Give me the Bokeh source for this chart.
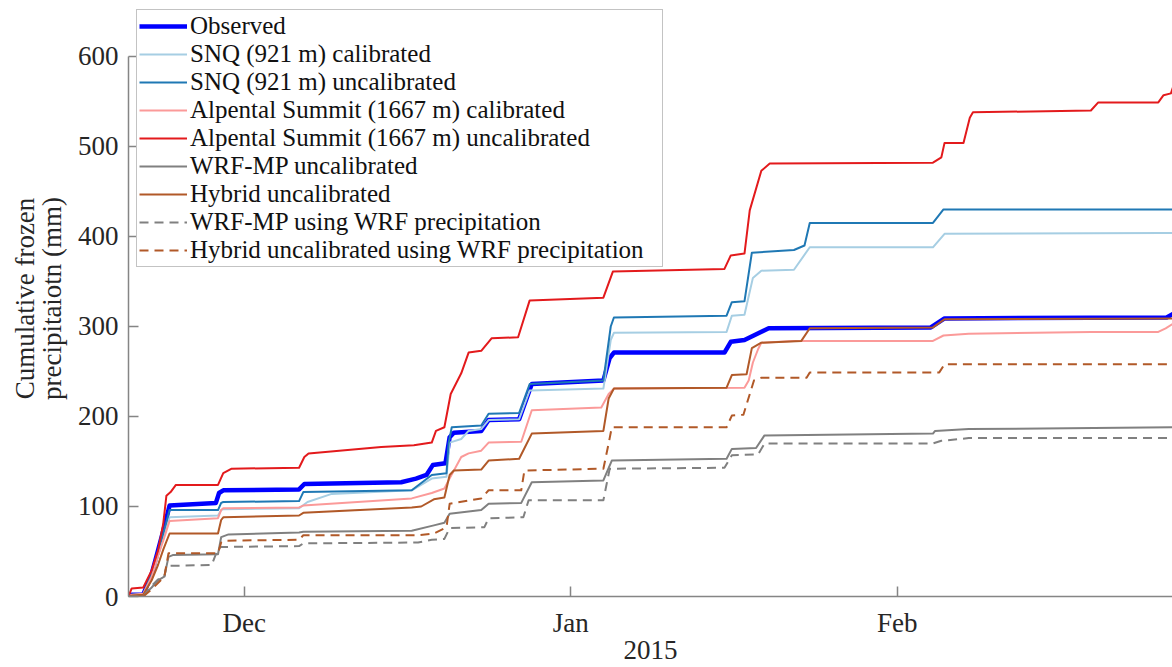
from datetime import datetime, timedelta

from bokeh.plotting import figure
from bokeh.models import (Range1d, FixedTicker, DatetimeTickFormatter, Legend,
                          LegendItem)
from bokeh.embed import file_html
from bokeh.resources import INLINE

START = datetime(2014, 11, 20)

# ---- data: days since 2014-11-20 and cumulative frozen precipitation (mm) ----
obs_day = [0.0, 0.3, 1.4, 2.2, 2.8, 3.3, 3.9, 8.3, 8.6, 9.0, 16.2, 16.7, 25.9, 27.3, 28.3, 28.9,
           30.1, 30.5, 30.9, 33.5, 34.2, 37.1, 38.3, 45.1, 45.7, 46.1, 56.6, 57.2, 58.5, 60.8,
           76.2, 77.5, 98.6, 99.2]
obs_mm = [0, 2, 2, 25, 51, 73, 101, 104, 115, 118, 119, 125, 127, 131, 135, 146,
          148, 177, 182, 184, 196, 197, 236, 240, 265, 271, 271, 283, 285, 298,
          299, 309, 310, 314]

snq_cal_day = [0.0, 0.3, 1.4, 2.2, 2.8, 3.3, 3.9, 8.5, 8.8, 9.0, 16.2, 17.0, 19.3, 26.9, 28.8,
               30.2, 30.5, 31.6, 32.3, 33.5, 34.2, 37.1, 38.1, 45.1, 45.8, 46.1, 56.8, 57.3,
               58.5, 59.3, 60.1, 63.2, 64.7, 76.4, 77.5, 98.1, 99.2]
snq_cal_mm = [0, 1, 2, 22, 45, 65, 88, 90, 96, 97, 98, 105, 114, 118, 131,
              133, 171, 175, 184, 186, 196, 197, 229, 231, 285, 293, 294, 312,
              313, 354, 362, 363, 388, 388, 403, 404, 404]

snq_unc_day = [0.0, 0.3, 1.4, 2.2, 2.8, 3.3, 3.9, 8.5, 8.8, 9.0, 16.2, 16.6, 26.9, 28.8,
               30.2, 30.4, 30.7, 33.5, 34.2, 37.1, 38.1, 45.1, 45.8, 46.1, 56.8, 57.3,
               58.5, 59.2, 63.2, 64.2, 64.7, 76.4, 77.4, 99.2]
snq_unc_mm = [0, 2, 3, 25, 50, 70, 96, 96, 104, 105, 106, 116, 118, 135,
              137, 170, 188, 190, 203, 204, 236, 240, 300, 310, 312, 327,
              328, 382, 385, 390, 415, 415, 430, 430]

alp_cal_day = [0.0, 0.3, 1.4, 2.2, 2.8, 3.3, 3.9, 8.5, 8.8, 9.0, 16.2, 16.6, 26.9, 28.8,
               30.0, 30.4, 31.6, 32.3, 33.5, 34.2, 37.3, 38.3, 44.9, 45.6, 46.1, 58.5,
               58.9, 59.3, 59.8, 60.1, 63.2, 76.4, 77.4, 79.8, 91.4, 97.8, 98.5, 99.2]
alp_cal_mm = [0, 2, 3, 22, 45, 62, 84, 87, 96, 98, 99, 101, 109, 115,
              120, 129, 155, 159, 162, 171, 172, 207, 210, 225, 231, 232,
              240, 260, 275, 282, 284, 284, 290, 292, 294, 294, 298, 303]

alp_unc_day = [0.0, 0.3, 1.4, 2.2, 2.8, 3.3, 3.6, 4.0, 4.5, 8.5, 9.0, 9.8, 16.2, 16.7, 17.1,
               24.0, 27.1, 28.8, 29.2, 30.0, 30.6, 31.6, 32.3, 33.5, 34.5, 37.0, 38.1,
               45.1, 46.0, 56.6, 57.2, 58.5, 59.0, 60.1, 60.9, 76.4, 77.2, 77.5, 79.3,
               79.9, 80.2, 91.4, 92.1, 97.8, 98.3, 99.0, 99.2]
alp_unc_mm = [0, 9, 10, 29, 51, 81, 112, 116, 124, 124, 137, 142, 143, 155, 159,
              166, 168, 171, 184, 188, 225, 248, 271, 273, 287, 288, 329,
              332, 361, 364, 379, 381, 429, 473, 481, 482, 488, 504, 504,
              532, 538, 540, 549, 549, 557, 559, 566]

wrf_day = [0.0, 1.4, 2.2, 2.8, 3.4, 3.8, 4.2, 8.5, 8.8, 9.5, 16.2, 16.6, 26.9, 29.0, 30.0,
           30.5, 33.5, 34.2, 37.3, 38.3, 45.1, 45.9, 56.8, 57.3, 59.6, 60.4, 76.4, 76.6,
           79.8, 99.2]
wrf_mm = [0, 1, 10, 18, 22, 44, 46, 47, 66, 69, 71, 72, 73, 79, 82,
          92, 96, 103, 104, 127, 129, 151, 153, 164, 165, 179, 181, 184,
          186, 188]

hyb_day = [0.0, 0.3, 1.4, 2.2, 2.8, 3.3, 3.9, 8.5, 8.8, 9.0, 16.2, 16.6, 26.9, 27.8, 29.0,
           30.0, 30.5, 30.9, 33.5, 34.2, 37.1, 38.3, 45.1, 45.6, 46.1, 56.8, 57.3, 58.7,
           59.2, 60.1, 63.9, 64.7, 76.4, 77.5, 99.2]
hyb_mm = [0, 1, 2, 18, 35, 52, 70, 70, 85, 88, 90, 93, 99, 100, 108,
          110, 135, 140, 141, 151, 153, 181, 184, 220, 231, 232, 246, 247,
          276, 282, 284, 298, 299, 308, 309]

wrf_wrfp_day = [0.0, 1.4, 2.2, 2.8, 3.4, 3.6, 7.9, 8.5, 8.8, 16.2, 16.6, 27.5, 28.8, 30.0,
                30.5, 33.8, 34.2, 37.5, 38.0, 45.1, 45.7, 56.6, 57.3, 59.8, 60.4, 76.4,
                77.2, 79.8, 99.2]
wrf_wrfp_mm = [0, 0, 12, 19, 21, 34, 35, 53, 55, 56, 59, 60, 63, 64,
               76, 77, 87, 88, 107, 107, 142, 143, 157, 158, 170, 170,
               173, 176, 176]

hyb_wrfp_day = [0.0, 1.4, 2.2, 2.8, 3.4, 3.8, 8.5, 8.8, 9.1, 16.2, 16.6, 27.5, 29.0, 30.2,
                30.5, 33.5, 34.2, 37.3, 37.6, 45.1, 45.6, 45.9, 56.8, 57.3, 58.4, 59.4,
                60.1, 64.4, 64.7, 77.0, 77.5, 99.2]
hyb_wrfp_mm = [0, 0, 8, 15, 22, 48, 48, 60, 62, 63, 68, 68, 70, 77,
               103, 109, 118, 118, 140, 142, 170, 188, 188, 201, 202, 240,
               243, 243, 249, 249, 258, 258]

month_ticks = [datetime(2014, 12, 1), datetime(2015, 1, 1), datetime(2015, 2, 1)]
y_ticks = [0, 100, 200, 300, 400, 500, 600]

series = [
    ("Observed", obs_day, obs_mm, "#0000ff", 4.5, "solid"),
    ("SNQ (921 m) calibrated", snq_cal_day, snq_cal_mm, "#a6cee3", 2, "solid"),
    ("SNQ (921 m) uncalibrated", snq_unc_day, snq_unc_mm, "#1f78b4", 2, "solid"),
    ("Alpental Summit (1667 m) calibrated", alp_cal_day, alp_cal_mm, "#fb9a99", 2, "solid"),
    ("Alpental Summit (1667 m) uncalibrated", alp_unc_day, alp_unc_mm, "#e31a1c", 2, "solid"),
    ("WRF-MP uncalibrated", wrf_day, wrf_mm, "#808080", 2, "solid"),
    ("Hybrid uncalibrated", hyb_day, hyb_mm, "#b15928", 2, "solid"),
    ("WRF-MP using WRF precipitation", wrf_wrfp_day, wrf_wrfp_mm, "#808080", 2, "9 6"),
    ("Hybrid uncalibrated using WRF precipitation", hyb_wrfp_day, hyb_wrfp_mm, "#b15928", 2, "9 6"),
]

EPOCH = datetime(1970, 1, 1)


def to_ms(dt):
    return (dt - EPOCH).total_seconds() * 1000.0


FONT = "Liberation Serif"
AXIS_COL = "#858585"
TEXT_COL = "#262626"

W, H = 1172, 667
FRAME_H = 596  # frame height in px (figure top -> x axis)

p = figure(width=W, height=H, output_backend="svg", toolbar_location=None,
           x_axis_type="datetime",
           x_range=Range1d(START, START + timedelta(days=99.15)),
           y_range=Range1d(0, 662.2),
           min_border_left=128, min_border_right=0, min_border_top=0,
           min_border_bottom=H - FRAME_H)
p.outline_line_color = None
p.grid.visible = False
p.background_fill_color = "white"

items = []
for label, days, mm, color, width, dash in series:
    xs = [START + timedelta(days=d) for d in days]
    r = p.line(xs, mm, line_color=color, line_width=width, line_dash=dash,
               line_join="round")
    items.append(LegendItem(label=label, renderers=[r]))

# axes
xa = p.xaxis[0]
xa.ticker = FixedTicker(ticks=[to_ms(t) for t in month_ticks])
xa.formatter = DatetimeTickFormatter(
    microseconds="%b", milliseconds="%b", seconds="%b", minsec="%b", minutes="%b",
    hourmin="%b", hours="%b", days="%b", months="%b", years="%b")
xa.axis_label = "2015"

ya = p.yaxis[0]
ya.ticker = FixedTicker(ticks=y_ticks)
ya.bounds = (0, 600)
ya.axis_label = "Cumulative frozen\nprecipitaiotn (mm)"

for ax in (xa, ya):
    ax.axis_line_color = AXIS_COL
    ax.axis_line_width = 1.5
    ax.major_tick_line_color = AXIS_COL
    ax.major_tick_line_width = 1.5
    ax.major_tick_in = 10
    ax.major_tick_out = 0
    ax.minor_tick_line_color = None
    ax.major_label_text_font = FONT
    ax.major_label_text_font_size = "27px"
    ax.major_label_text_color = TEXT_COL
    ax.axis_label_text_font = FONT
    ax.axis_label_text_font_size = "27px"
    ax.axis_label_text_font_style = "normal"
    ax.axis_label_text_color = TEXT_COL

xa.major_label_standoff = 11
xa.axis_label_standoff = 0
ya.major_label_standoff = 10
ya.axis_label_standoff = 8
ya.axis_label_text_line_height = 0.9

legend = Legend(items=items, location=(8, FRAME_H - 267))
legend.label_text_font = FONT
legend.label_text_font_size = "25px"
legend.label_text_color = "#111111"
legend.label_height = 24
legend.label_width = 470
legend.glyph_height = 24
legend.glyph_width = 48
legend.label_standoff = 3
legend.spacing = 0
legend.padding = 2
legend.margin = 0
legend.border_line_color = "#888888"
legend.border_line_width = 1.5
legend.background_fill_color = "white"
legend.background_fill_alpha = 1.0
p.add_layout(legend)

open("out.html", "w").write(file_html(p, INLINE))
